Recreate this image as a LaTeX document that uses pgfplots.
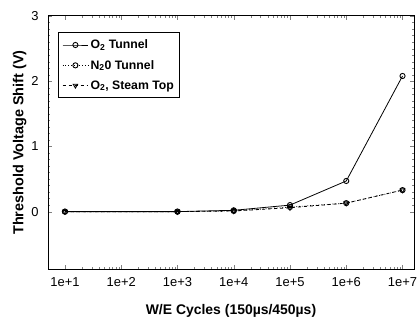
\documentclass[border=0pt]{standalone}
\usepackage{fontspec}
\setmainfont{Liberation Sans}
\usepackage{pgfplots}
\pgfplotsset{compat=1.18}
\begin{document}
\begin{tikzpicture}
\begin{axis}[
  scale only axis, width=366bp, height=253bp,
  xmode=log, xmin=5.0, xmax=1.6e7,
  ymin=-0.88, ymax=3,
  xtick={10,100,1000,10000,100000,1000000,10000000},
  xticklabels={1e+1,1e+2,1e+3,1e+4,1e+5,1e+6,1e+7},
  ytick={0,1,2,3},
  minor y tick num=9,
  tick align=inside, tick pos=both,
  major tick length=4pt, minor tick length=2pt,
  tick label style={font=\fontsize{13}{15}\selectfont},
  xticklabel style={yshift=-5bp},
  yticklabel style={xshift=-6bp},
  /pgf/number format/assume math mode=true,
  xlabel={\bfseries W/E Cycles (150µs/450µs)},
  ylabel={\bfseries Threshold Voltage Shift (V)},
  xlabel style={font=\fontsize{14}{16}\selectfont, yshift=-11bp},
  ylabel style={font=\fontsize{14.5}{16}\selectfont, yshift=-2bp},
  axis line style={line width=1pt},
  legend style={at={(0.027,0.935)}, anchor=north west, font=\bfseries\fontsize{12.3}{14}\selectfont, draw=black, line width=0.8pt, inner xsep=4pt, inner ysep=5pt, row sep=6pt},
  legend cell align=left,
  legend image code/.code={
    \draw[mark repeat=2,mark phase=2,#1] plot coordinates {(0cm,0cm) (0.45cm,0cm) (0.9cm,0cm)};
  },
]
\addplot[black, thick, mark=o, mark size=2.6pt, mark options={solid, line width=0.9pt}] coordinates {(10,0) (1000,0) (10000,0.02) (100000,0.1) (1000000,0.47) (10000000,2.08)};
\addlegendentry{O\textsubscript{2} Tunnel}
\addplot[black, dotted, thick, mark=o, mark size=2.6pt, mark options={solid, line width=0.9pt}] coordinates {(10,0) (1000,0) (10000,0.01) (100000,0.07) (1000000,0.13) (10000000,0.33)};
\addlegendentry{N\textsubscript{2}0 Tunnel}
\addplot[black, thick, dashed, mark=triangle, mark size=2.6pt, mark options={solid, rotate=180, line width=0.9pt}] coordinates {(10,0) (1000,0) (10000,0.01) (100000,0.06) (1000000,0.13) (10000000,0.33)};
\addlegendentry{O\textsubscript{2}, Steam Top}
\end{axis}
\pgfresetboundingbox
\path (current axis.south west) ++(-48bp,-51bp) coordinate (bl);
\path (current axis.north east) ++(6bp,16bp) coordinate (tr);
\useasboundingbox (bl) rectangle (tr);
\end{tikzpicture}
\end{document}
